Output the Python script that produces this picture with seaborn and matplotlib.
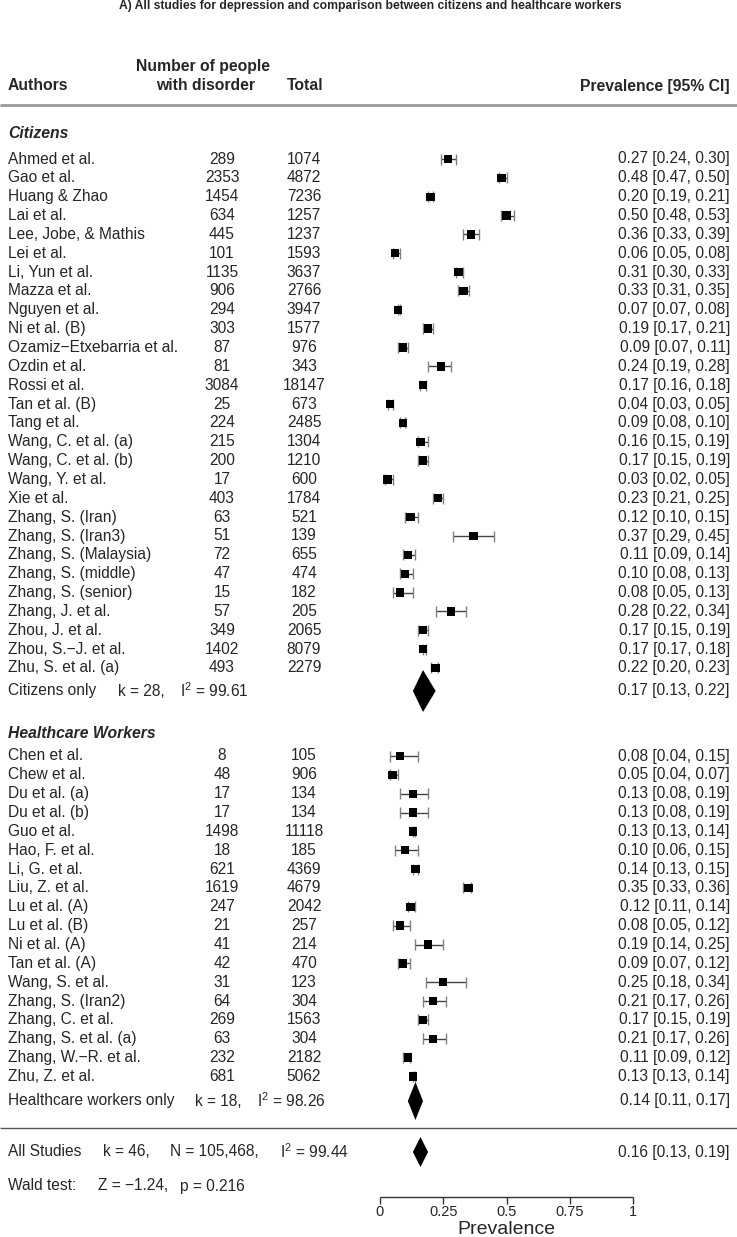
#!/usr/bin/env python3
# Forest plot: prevalence of depression, citizens vs healthcare workers

import numpy as np
import pandas as pd
import matplotlib
matplotlib.use("Agg")
import matplotlib.pyplot as plt
import seaborn as sns

cit_authors = [
    "Ahmed et al.", "Gao et al.", "Huang & Zhao", "Lai et al.", "Lee, Jobe, & Mathis",
    "Lei et al.", "Li, Yun et al.", "Mazza et al.", "Nguyen et al.", "Ni et al. (B)",
    "Ozamiz\u2212Etxebarria et al.", "Ozdin et al.", "Rossi et al.", "Tan et al. (B)",
    "Tang et al.", "Wang, C. et al. (a)", "Wang, C. et al. (b)", "Wang, Y. et al.",
    "Xie et al.", "Zhang, S. (Iran)", "Zhang, S. (Iran3)", "Zhang, S. (Malaysia)",
    "Zhang, S. (middle)", "Zhang, S. (senior)", "Zhang, J. et al.", "Zhou, J. et al.",
    "Zhou, S.\u2212J. et al.", "Zhu, S. et al. (a)",
]
cit_cases = [289, 2353, 1454, 634, 445, 101, 1135, 906, 294, 303, 87, 81, 3084, 25,
             224, 215, 200, 17, 403, 63, 51, 72, 47, 15, 57, 349, 1402, 493]
cit_total = [1074, 4872, 7236, 1257, 1237, 1593, 3637, 2766, 3947, 1577, 976, 343,
             18147, 673, 2485, 1304, 1210, 600, 1784, 521, 139, 655, 474, 182, 205,
             2065, 8079, 2279]
cit_est = [0.27, 0.48, 0.20, 0.50, 0.36, 0.06, 0.31, 0.33, 0.07, 0.19, 0.09, 0.24, 0.17,
           0.04, 0.09, 0.16, 0.17, 0.03, 0.23, 0.12, 0.37, 0.11, 0.10, 0.08, 0.28, 0.17,
           0.17, 0.22]
cit_lo = [0.24, 0.47, 0.19, 0.48, 0.33, 0.05, 0.30, 0.31, 0.07, 0.17, 0.07, 0.19, 0.16,
          0.03, 0.08, 0.15, 0.15, 0.02, 0.21, 0.10, 0.29, 0.09, 0.08, 0.05, 0.22, 0.15,
          0.17, 0.20]
cit_hi = [0.30, 0.50, 0.21, 0.53, 0.39, 0.08, 0.33, 0.35, 0.08, 0.21, 0.11, 0.28, 0.18,
          0.05, 0.10, 0.19, 0.19, 0.05, 0.25, 0.15, 0.45, 0.14, 0.13, 0.13, 0.34, 0.19,
          0.18, 0.23]

hc_authors = [
    "Chen et al.", "Chew et al.", "Du et al. (a)", "Du et al. (b)", "Guo et al.",
    "Hao, F. et al.", "Li, G. et al.", "Liu, Z. et al.", "Lu et al. (A)", "Lu et al. (B)",
    "Ni et al. (A)", "Tan et al. (A)", "Wang, S. et al.", "Zhang, S. (Iran2)",
    "Zhang, C. et al.", "Zhang, S. et al. (a)", "Zhang, W.\u2212R. et al.", "Zhu, Z. et al.",
]
hc_cases = [8, 48, 17, 17, 1498, 18, 621, 1619, 247, 21, 41, 42, 31, 64, 269, 63, 232, 681]
hc_total = [105, 906, 134, 134, 11118, 185, 4369, 4679, 2042, 257, 214, 470, 123, 304,
            1563, 304, 2182, 5062]
hc_est = [0.08, 0.05, 0.13, 0.13, 0.13, 0.10, 0.14, 0.35, 0.12, 0.08, 0.19, 0.09, 0.25,
          0.21, 0.17, 0.21, 0.11, 0.13]
hc_lo = [0.04, 0.04, 0.08, 0.08, 0.13, 0.06, 0.13, 0.33, 0.11, 0.05, 0.14, 0.07, 0.18,
         0.17, 0.15, 0.17, 0.09, 0.13]
hc_hi = [0.15, 0.07, 0.19, 0.19, 0.14, 0.15, 0.15, 0.36, 0.14, 0.12, 0.25, 0.12, 0.34,
         0.26, 0.19, 0.26, 0.12, 0.14]

summary_labels = ["Citizens only", "Healthcare workers only", "All Studies"]
summary_est = [0.17, 0.14, 0.16]
summary_lo = [0.13, 0.11, 0.13]
summary_hi = [0.22, 0.17, 0.19]
summary_k = ["k = 28,", "k = 18,", "k = 46,"]
summary_i2 = ["I$^{\\mathregular{2}}$ = 99.61", "I$^{\\mathregular{2}}$ = 98.26",
              "I$^{\\mathregular{2}}$ = 99.44"]
total_n = "N = 105,468,"
wald_parts = ["Wald test:", "Z = \u22121.24,", "p = 0.216"]
ticks = [0, 0.25, 0.5, 0.75, 1]
tick_labels = ["0", "0.25", "0.5", "0.75", "1"]

sns.set_theme(style="white")
plt.rcParams["font.family"] = ["Liberation Sans", "DejaVu Sans"]

W, H = 737, 1237
X0, XS = 380, 253          # pixel of prevalence 0, pixels per unit
STEP = 18.85


def px(x):
    return (x - X0) / XS


fig = plt.figure(figsize=(W / 100, H / 100), dpi=100)
ax = fig.add_axes([0, 0, 1, 1])
ax.set_xlim(px(0), px(W))
ax.set_ylim(H, 0)
ax.axis("off")

cit = pd.DataFrame({"author": cit_authors, "n": cit_cases, "total": cit_total,
                    "est": cit_est, "lo": cit_lo, "hi": cit_hi})
cit["y"] = 159 + np.arange(len(cit)) * STEP
hc = pd.DataFrame({"author": hc_authors, "n": hc_cases, "total": hc_total,
                   "est": hc_est, "lo": hc_lo, "hi": hc_hi})
hc["y"] = 756 + np.arange(len(hc)) * STEP
studies = pd.concat([cit, hc], ignore_index=True)

fs = 11.2
# error bars
ax.hlines(studies["y"], studies["lo"], studies["hi"], color="#444444", lw=1)
for side in ("lo", "hi"):
    ax.vlines(studies[side], studies["y"] - 5.5, studies["y"] + 5.5, color="#808080", lw=1)
sns.scatterplot(data=studies, x="est", y="y", marker="s", s=36, color="black",
                edgecolor="none", ax=ax, legend=False, zorder=3)

for _, r in studies.iterrows():
    ax.text(px(8), r["y"], r["author"], fontsize=fs, va="center", ha="left")
    ax.text(px(222), r["y"], f"{r['n']}", fontsize=fs, va="center", ha="center")
    ax.text(px(304), r["y"], f"{r['total']}", fontsize=fs, va="center", ha="center")
    ax.text(px(730), r["y"], f"{r['est']:.2f} [{r['lo']:.2f}, {r['hi']:.2f}]",
            fontsize=fs, va="center", ha="right")

# summary diamonds
sum_y = [691, 1101, 1152]
sum_h = [21, 19, 15]
k_x = [118, 195, 103]
i2_x = [180, 257, 280]
for lab, e, lo, hi, k, i2, y, h, kx, ix in zip(summary_labels, summary_est, summary_lo,
                                                summary_hi, summary_k, summary_i2,
                                                sum_y, sum_h, k_x, i2_x):
    ax.fill([lo, e, hi, e], [y, y - h, y, y + h], color="black", lw=0)
    ax.text(px(8), y, lab, fontsize=fs, va="center", ha="left")
    ax.text(px(kx), y, k, fontsize=fs, va="center", ha="left")
    ax.text(px(ix), y, i2, fontsize=fs, va="center", ha="left")
    ax.text(px(730), y, f"{e:.2f} [{lo:.2f}, {hi:.2f}]", fontsize=fs, va="center", ha="right")
ax.text(px(170), 1152, total_n, fontsize=fs, va="center", ha="left")

for part, x in zip(wald_parts, [8, 98, 180]):
    ax.text(px(x), 1186, part, fontsize=fs, va="center", ha="left")

# headers
ax.text(px(370), 6, "A) All studies for depression and comparison between citizens and healthcare workers",
        fontsize=8.7, fontweight="bold", ha="center", va="center")
hfs = 11.3
ax.text(px(8), 86, "Authors", fontsize=hfs, fontweight="bold", va="center", ha="left")
ax.text(px(203), 67, "Number of people", fontsize=hfs, fontweight="bold", va="center", ha="center")
ax.text(px(206), 86, "with disorder", fontsize=hfs, fontweight="bold", va="center", ha="center")
ax.text(px(305), 86, "Total", fontsize=hfs, fontweight="bold", va="center", ha="center")
ax.text(px(730), 86, "Prevalence [95% CI]", fontsize=hfs, fontweight="bold", va="center", ha="right")
ax.hlines(105, px(0), px(W), color="#999999", lw=2)
ax.text(px(8), 134, "Citizens", fontsize=hfs, fontweight="bold", style="italic", va="center")
ax.text(px(8), 734, "Healthcare Workers", fontsize=hfs, fontweight="bold", style="italic", va="center")
ax.hlines(1128, px(0), px(W), color="#555555", lw=1)

# x axis
ax.hlines(1197, 0, 1, color="#333333", lw=1)
ax.vlines(ticks, 1197, 1204, color="#333333", lw=1)
for t, tl in zip(ticks, tick_labels):
    ax.text(t, 1212, tl, fontsize=10.5, ha="center", va="center")
ax.text(0.5, 1230, "Prevalence", fontsize=14, ha="center", va="center")

fig.savefig("out.png", dpi=100)
